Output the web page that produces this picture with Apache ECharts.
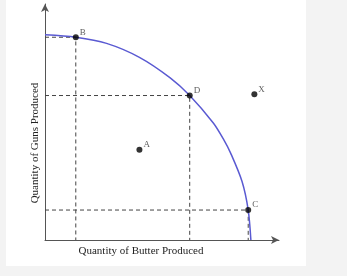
<!DOCTYPE html>
<html>
<head>
<meta charset="utf-8">
<script src="https://cdn.jsdelivr.net/npm/echarts@6/dist/echarts.min.js"></script>
<style>
  html, body { margin: 0; padding: 0; background: #f3f3f3; }
  #wrap { position: relative; width: 347px; height: 276px; background: #f3f3f3; }
  #panel { position: absolute; left: 6px; top: 0; width: 300px; height: 266px; background: #ffffff; }
  #chart { position: absolute; left: 0; top: 0; width: 347px; height: 276px; }
</style>
</head>
<body>
<div id="wrap"><div id="panel"></div><div id="chart"></div></div>
<script>
// Production possibilities frontier (butter, guns)
const frontier = [[0, 10.0], [1.5, 9.88], [3.0, 9.58], [4.6, 8.9], [6.1, 7.9],
                  [7.05, 7.04], [8.2, 5.7], [8.7, 4.9], [9.05, 4.22], [9.6, 2.85], [9.9, 1.46], [10.03, 0]];
// Labelled points
const pointNames = ['B', 'D', 'C', 'A', 'X'];
const pointX = [1.5, 7.05, 9.9, 4.6, 10.2];
const pointY = [9.88, 7.04, 1.46, 4.4, 7.1];
// points that get dashed guide lines to the axes
const guidePoints = ['B', 'D', 'C'];
const xTitle = 'Quantity of Butter Produced';
const yTitle = 'Quantity of Guns Produced';

const serif = '"Liberation Serif", "DejaVu Serif", serif';
const chart = echarts.init(document.getElementById('chart'), null, { renderer: 'canvas' });

const guideSeries = guidePoints.map(function (name) {
  const i = pointNames.indexOf(name);
  return {
    type: 'line', silent: true, symbol: 'none', z: 1,
    data: [[0, pointY[i]], [pointX[i], pointY[i]], [pointX[i], 0]],
    lineStyle: { color: '#444', width: 1, type: [4, 3] }
  };
});

chart.setOption({
  backgroundColor: 'transparent',
  animation: false,
  grid: { left: 45, top: 4, width: 234, height: 236 },
  xAxis: {
    type: 'value', min: 0, max: 11.4,
    axisLine: { onZero: false, show: true, symbol: ['none', 'arrow'], symbolSize: [6, 8],
                lineStyle: { color: '#555', width: 1 } },
    axisTick: { show: false }, axisLabel: { show: false }, splitLine: { show: false }
  },
  yAxis: {
    type: 'value', min: 0, max: 11.5,
    axisLine: { onZero: false, show: true, symbol: ['none', 'arrow'], symbolSize: [6, 8],
                lineStyle: { color: '#555', width: 1 } },
    axisTick: { show: false }, axisLabel: { show: false }, splitLine: { show: false }
  },
  graphic: [
    { type: 'text', x: 141, y: 251, silent: true,
      style: { text: xTitle, font: '11px ' + serif, fill: '#222', textAlign: 'center', textVerticalAlign: 'middle' } },
    { type: 'text', x: 35, y: 143, rotation: Math.PI / 2, silent: true,
      style: { text: yTitle, font: '11px ' + serif, fill: '#222', textAlign: 'center', textVerticalAlign: 'middle' } }
  ],
  series: guideSeries.concat([
    {
      type: 'line', silent: true, symbol: 'none', z: 3,
      smooth: 0.3,
      data: frontier,
      lineStyle: { color: '#5a5ad2', width: 1.5 }
    },
    {
      type: 'scatter', z: 5, symbol: 'circle', symbolSize: 6,
      itemStyle: { color: '#000' },
      data: pointNames.map(function (n, i) { return { name: n, value: [pointX[i], pointY[i]] }; }),
      label: {
        show: true, position: 'right', distance: 1, offset: [0, -5],
        formatter: '{b}', fontFamily: serif, fontSize: 9, color: '#333'
      }
    }
  ])
});
</script>
</body>
</html>
